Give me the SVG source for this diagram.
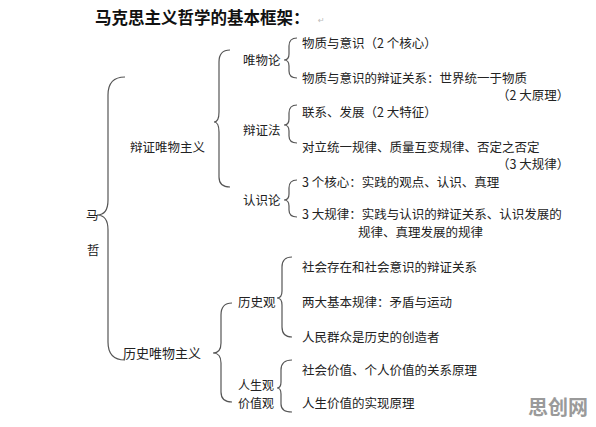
<svg xmlns="http://www.w3.org/2000/svg" width="596" height="427" viewBox="0 0 596 427">
<style>
.t{font-family:"Noto Sans CJK SC","Noto Sans",sans-serif;font-size:12.5px;fill:#222}
.h{font-family:"Noto Sans CJK SC","Noto Sans",sans-serif;font-size:16.5px;font-weight:bold;fill:#111}
.b{fill:none;stroke:#555;stroke-width:1.2}
.w{font-family:"Noto Sans CJK SC","Noto Sans",sans-serif;font-size:20px;font-weight:bold;fill:#9a9a9a}
</style>
<rect width="596" height="427" fill="#fff"/>
<g id="title"><text class="h" x="95" y="24">马克思主义哲学的基本框架：</text><text x="318" y="23" style="font-family:'DejaVu Sans',sans-serif;font-size:8px;fill:#bbb">↵</text></g>
<g id="connectors">
<path class="b" d="M125,77 Q108,77 108,95 L108,200 Q108,215 97,215 Q108,215 108,230 L108,342 Q108,360 125,360"/>
<path class="b" d="M230,50 Q219,50 219,62 L219,112 Q219,122 214,122 Q219,122 219,132 L219,177 Q219,187 230,187"/>
<path class="b" d="M232,303 Q221,303 221,315 L221,343 Q221,353 213,353 Q221,353 221,363 L221,392 Q221,402 232,402"/>
<path class="b" d="M297,38 Q289,38 289,46 L289,54 Q289,60 284,60 Q289,60 289,66 L289,71 Q289,78 297,78"/>
<path class="b" d="M297,105 Q289,105 289,113 L289,119 Q289,125 284,125 Q289,125 289,131 L289,136 Q289,143 297,143"/>
<path class="b" d="M297,180 Q289,180 289,188 L289,194 Q289,200 284,200 Q289,200 289,206 L289,210 Q289,217 297,217"/>
<path class="b" d="M292,257 Q282,257 282,267 L282,291 Q282,298 277,298 Q282,298 282,305 L282,327 Q282,337 292,337"/>
<path class="b" d="M292,360 Q281,360 281,370 L281,382 Q281,388 277,388 Q281,388 281,394 L281,404 Q281,412 292,412"/>
</g>
<g id="root"><text class="t" x="86" y="220">马</text><text class="t" x="87" y="255">哲</text></g>
<g id="n-bianzheng"><text class="t" x="130" y="151.5">辩证唯物主义</text></g>
<g id="n-weiwulun"><text class="t" x="243" y="64.5">唯物论</text></g>
<g id="n-bianzhengfa"><text class="t" x="243" y="134.5">辩证法</text></g>
<g id="n-renshilun"><text class="t" x="243" y="204.5">认识论</text></g>
<g id="n-lishi"><text class="t" x="123" y="357.5" style="font-size:13px">历史唯物主义</text></g>
<g id="n-lishiguan"><text class="t" x="238" y="306.5">历史观</text></g>
<g id="n-rensheng"><text class="t" x="238" y="390" style="font-size:12px">人生观</text><text class="t" x="238" y="408" style="font-size:12px">价值观</text></g>
<g id="leaves">
<text class="t" x="302" y="47.5">物质与意识（2 个核心）</text>
<text class="t" x="302" y="82.5">物质与意识的辩证关系：世界统一于物质</text>
<text class="t" x="497" y="99.5">（2 大原理）</text>
<text class="t" x="302" y="116.5">联系、发展（2 大特征）</text>
<text class="t" x="302" y="151.5">对立统一规律、质量互变规律、否定之否定</text>
<text class="t" x="497" y="168.5">（3 大规律）</text>
<text class="t" x="302" y="186.5">3 个核心：实践的观点、认识、真理</text>
<text class="t" x="302" y="218.5">3 大规律：实践与认识的辩证关系、认识发展的</text>
<text class="t" x="358" y="236.5">规律、真理发展的规律</text>
<text class="t" x="302" y="271.5">社会存在和社会意识的辩证关系</text>
<text class="t" x="302" y="306.5">两大基本规律：矛盾与运动</text>
<text class="t" x="302" y="341.5">人民群众是历史的创造者</text>
<text class="t" x="302" y="374.5">社会价值、个人价值的关系原理</text>
<text class="t" x="302" y="407.5">人生价值的实现原理</text>
</g>
<g id="watermark"><text class="w" x="528" y="415">思创网</text></g>
</svg>
